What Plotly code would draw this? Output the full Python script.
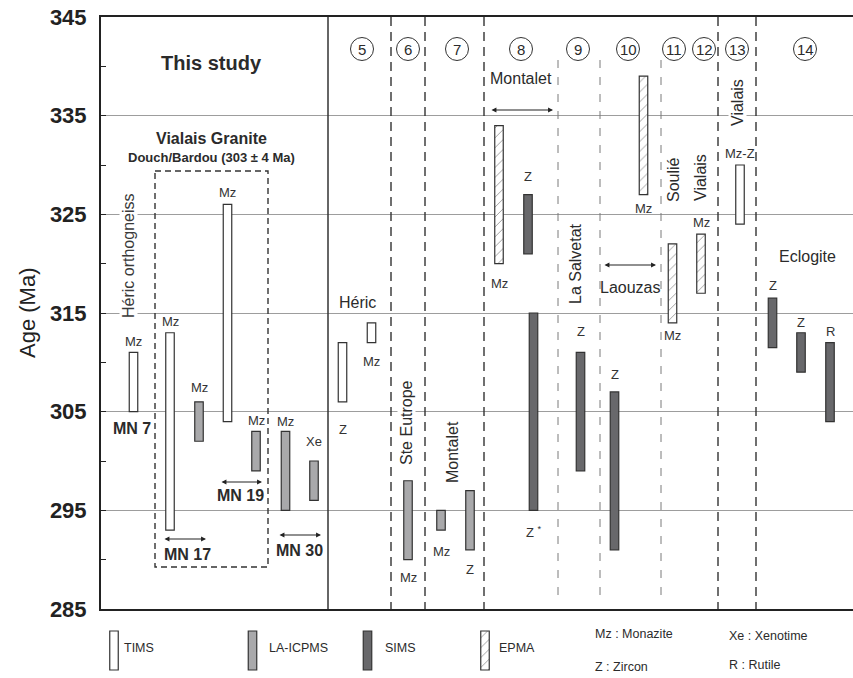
import plotly.graph_objects as go

# ---------------------------------------------------------------- data
methods = ["TIMS", "LA-ICPMS", "SIMS", "EPMA"]

# one entry per dated sample (ages in Ma)
bar_method = ["TIMS", "TIMS", "LA-ICPMS", "TIMS", "LA-ICPMS", "LA-ICPMS", "LA-ICPMS",
              "TIMS", "TIMS", "LA-ICPMS", "LA-ICPMS", "LA-ICPMS",
              "EPMA", "SIMS", "SIMS", "SIMS", "EPMA", "SIMS",
              "EPMA", "EPMA", "TIMS", "SIMS", "SIMS", "SIMS"]
bar_mineral = ["Mz", "Mz", "Mz", "Mz", "Mz", "Mz", "Xe",
               "Z", "Mz", "Mz", "Mz", "Z",
               "Mz", "Z", "Z <sup>*</sup>", "Z", "Mz", "Z",
               "Mz", "Mz", "Mz-Z", "Z", "Z", "R"]
age_low = [305, 293, 302, 304, 299, 295, 296,
           306, 312, 290, 293, 291,
           320, 321, 295, 299, 327, 291,
           314, 317, 324, 311.5, 309, 304]
age_high = [311, 313, 306, 326, 303, 303, 300,
            312, 314, 298, 295, 297,
            334, 327, 315, 311, 339, 307,
            322, 323, 330, 316.5, 313, 312]

# column slot of every sample (page pixels) and where its mineral tag sits
bar_x = [133.5, 170, 199, 227.5, 256, 285.5, 314,
         342.5, 371.5, 408, 441, 470,
         499, 528, 533.5, 580.5, 643.5, 614.5,
         672.5, 701, 740, 772.5, 801, 830]
tag_side = ["top", "top", "top", "top", "top", "top", "top",
            "bottom", "bottom", "bottom", "bottom", "bottom",
            "bottom", "top", "bottom", "top", "bottom", "top",
            "bottom", "top", "top", "top", "top", "top"]
tag_gap = [11, 11, 14, 12, 11, 10, 20,
           28, 19, 18, 21, 20,
           20, 18, 22, 21, 14, 17,
           13, 12, 11, 13, 10, 11]

ref_numbers = ["5", "6", "7", "8", "9", "10", "11", "12", "13", "14"]
ref_x = [362, 408, 457, 521, 578, 628, 674, 704, 737, 805]

y_ticks = [285, 295, 305, 315, 325, 335, 345]
y_minor = [290, 300, 310, 320, 330, 340]

# ---------------------------------------------------------------- styles
W, H = 853, 678
L, R, T, B = 101, 853, 17, 609
FONT = "Liberation Sans, Arial, sans-serif"
INK = "#2b2b2b"
fills = {"TIMS": "white", "LA-ICPMS": "#a9a9ab", "SIMS": "#68686b", "EPMA": "white"}


def bar_marker(m):
    mk = dict(color=fills[m], line=dict(color="#333333", width=1.2))
    if m == "EPMA":
        mk["pattern"] = dict(shape="/", fgcolor="#444444", bgcolor="white",
                             size=7, solidity=0.14)
    return mk


fig = go.Figure()

# age bars, one trace per analytical method
for m in methods:
    idx = [i for i, mm in enumerate(bar_method) if mm == m]
    fig.add_trace(go.Bar(
        x=[bar_x[i] for i in idx],
        y=[age_high[i] - age_low[i] for i in idx],
        base=[age_low[i] for i in idx],
        width=8.5, marker=bar_marker(m), name=m,
        showlegend=False, hoverinfo="skip", xaxis="x", yaxis="y"))

# legend swatches drawn on the page-pixel canvas axes
legend_x = [114, 252.5, 367.5, 485]
legend_text_x = [122, 267, 383, 497]
for k, m in enumerate(methods):
    fig.add_trace(go.Bar(x=[legend_x[k]], y=[39], base=[631], width=8.5,
                         marker=bar_marker(m), xaxis="x2", yaxis="y2",
                         showlegend=False, hoverinfo="skip"))

ann = []


def txt(x, y, s, size=16, bold=False, angle=0, xanchor="center", bg=None, color=INK):
    a = dict(x=x, y=y, xref="x2", yref="y2", text=s, showarrow=False,
             textangle=angle, xanchor=xanchor, yanchor="middle",
             font=dict(family=FONT, size=size, color=color,
                       weight="bold" if bold else "normal"))
    if bg:
        a["bgcolor"] = bg
        a["borderpad"] = 0
    ann.append(a)


# mineral tags attached to each bar
for i in range(len(bar_x)):
    top = tag_side[i] == "top"
    ann.append(dict(x=bar_x[i], y=age_high[i] if top else age_low[i], xref="x", yref="y",
                    text=bar_mineral[i], showarrow=False, yanchor="middle",
                    yshift=tag_gap[i] if top else -tag_gap[i],
                    font=dict(family=FONT, size=13, color="#333333")))

# headings and locality names
txt(211, 63, "This study", 20, True)
txt(211, 138, "Vialais Granite", 16, True)
txt(211, 157, "Douch/Bardou (303 ± 4 Ma)", 13, True)
txt(128, 256, "Héric orthogneiss", 16, angle=-90, bg="white", color="#3a3a3a")
txt(132, 428, "MN 7", 16, True)
txt(187, 554, "MN 17", 16, True)
txt(240, 495, "MN 19", 16, True)
txt(299, 550, "MN 30", 16, True)
txt(357, 302, "Héric", 16)
txt(406, 423, "Ste Eutrope", 16, angle=-90, bg="white")
txt(452, 452, "Montalet", 16, angle=-90, bg="white")
txt(521, 78, "Montalet", 16)
txt(575, 264, "La Salvetat", 16, angle=-90, bg="white")
txt(630, 287, "Laouzas", 16)
txt(673, 180, "Soulié", 16, angle=-90, bg="white")
txt(700, 178, "Vialais", 16, angle=-90, bg="white")
txt(737, 103, "Vialais", 16, angle=-90, bg="white")
txt(807, 256, "Eclogite", 16)
txt(27, 313, "Age (Ma)", 22, angle=-90, color="#222222")

# circled reference numbers
shapes = []
for n, cx in zip(ref_numbers, ref_x):
    txt(cx, 49.5, n, 15)
    shapes.append(dict(type="circle", xref="x2", yref="y2", x0=cx - 11.5, x1=cx + 11.5,
                       y0=49 - 11.5, y1=49 + 11.5, line=dict(color="#333333", width=1)))

# legend labels
for m, lx in zip(methods, legend_text_x):
    txt(lx, 648, m, 12.5, xanchor="left")
txt(593, 634, "Mz : Monazite", 12.5, xanchor="left")
txt(593, 667, "Z : Zircon", 12.5, xanchor="left")
txt(727, 636, "Xe : Xenotime", 12.5, xanchor="left")
txt(727, 665, "R : Rutile", 12.5, xanchor="left")

# double-headed range arrows
for x0, x1, y in [(163, 206, 539), (220, 262, 482), (278, 321, 535),
                  (490, 553, 110), (603, 656, 265)]:
    ann.append(dict(x=x1, y=y, ax=x0, ay=y, xref="x2", yref="y2", axref="x2", ayref="y2",
                    text="", showarrow=True, arrowhead=2, arrowside="end+start",
                    arrowsize=0.9, arrowwidth=1.1, arrowcolor="#222222",
                    standoff=0, startstandoff=0))

# column separators
shapes.append(dict(type="line", xref="x2", yref="y2", x0=328, x1=328, y0=T, y1=B,
                   line=dict(color="#333333", width=1.5)))
for xv in [391, 425, 484, 718, 756]:
    shapes.append(dict(type="line", xref="x2", yref="y2", x0=xv, x1=xv, y0=T, y1=B,
                       line=dict(color="#333333", width=1.4, dash="9px,6px")))
for xv in [558, 600, 661]:
    shapes.append(dict(type="line", xref="x2", yref="y2", x0=xv, x1=xv, y0=60, y1=602,
                       line=dict(color="#7a7a7a", width=1, dash="8px,9px")))
# dashed frame around the Vialais granite samples
shapes.append(dict(type="rect", xref="x2", yref="y2", x0=155, x1=268, y0=171, y1=567,
                   line=dict(color="#333333", width=1.4, dash="6px,4px")))

fig.update_layout(
    width=W, height=H, margin=dict(l=0, r=0, t=0, b=0, autoexpand=False),
    paper_bgcolor="white", plot_bgcolor="rgba(0,0,0,0)",
    barmode="overlay", showlegend=False,
    annotations=ann, shapes=shapes,
    xaxis=dict(domain=[L / W, R / W], range=[L, R], showline=True, mirror=True,
               linecolor="#222222", linewidth=2, showgrid=False, zeroline=False,
               showticklabels=False, ticks="", anchor="y", fixedrange=True,
               automargin=False),
    yaxis=dict(domain=[(H - B) / H, (H - T) / H], range=[285, 345], anchor="x",
               showline=True, linecolor="#222222", linewidth=2, zeroline=False,
               tickvals=y_ticks, ticktext=[str(v) for v in y_ticks],
               ticks="inside", ticklen=5, tickwidth=1.2, tickcolor="#222222",
               minor=dict(tickvals=y_minor, ticks="inside", ticklen=5, tickwidth=1.2,
                          tickcolor="#222222", showgrid=False),
               showgrid=True, gridcolor="#9d9d9d", gridwidth=1.3,
               tickfont=dict(family=FONT, size=22, color="#222222", weight="bold"),
               ticklabelstandoff=8, fixedrange=True, automargin=False),
    xaxis2=dict(domain=[0, 1], range=[0, W], visible=False, anchor="y2",
                fixedrange=True, automargin=False),
    yaxis2=dict(domain=[0, 1], range=[H, 0], visible=False, anchor="x2",
                fixedrange=True, automargin=False),
)

fig.write_html("out.html")
